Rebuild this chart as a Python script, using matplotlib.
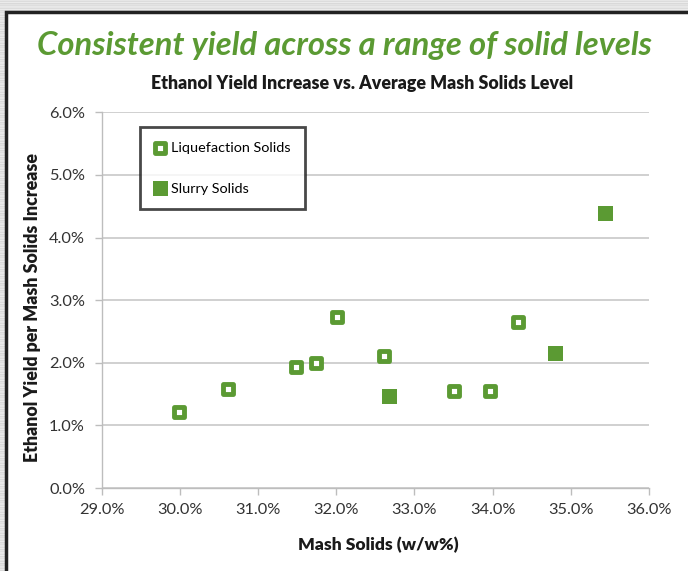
import matplotlib
matplotlib.use("Agg")
import matplotlib.pyplot as plt
from matplotlib.patches import Rectangle
from matplotlib.ticker import PercentFormatter
import numpy as np

# ---- data ----
liq_x = [29.99, 30.61, 31.49, 31.74, 32.01, 32.61, 33.50, 33.97, 34.33]
liq_y = [1.22, 1.58, 1.94, 2.00, 2.73, 2.11, 1.55, 1.55, 2.65]
slurry_x = [32.68, 34.80, 35.45]
slurry_y = [1.46, 2.15, 4.39]
x_ticks = [29, 30, 31, 32, 33, 34, 35, 36]
y_ticks = [0, 1, 2, 3, 4, 5, 6]

title = "Consistent yield across a range of solid levels"
subtitle = "Ethanol Yield Increase vs. Average Mash Solids Level"
xlabel = "Mash Solids (w/w%)"
ylabel = "Ethanol Yield per Mash Solids Increase"
labels = ["Liquefaction Solids", "Slurry Solids"]

GREEN = "#5b9a33"
W, H = 688, 571
plt.rcParams['font.family'] = ['Lato', 'DejaVu Sans']

fig = plt.figure(figsize=(W / 100, H / 100), dpi=100)
fig.patch.set_facecolor("#d9d9d9")

# brushed metal-ish stripes in background
bg = fig.add_axes([0, 0, 1, 1], zorder=-10)
bg.set_axis_off()
tex = np.tile(np.array([0.90, 0.86, 0.92, 0.85, 0.89, 0.87, 0.91]), (H // 7 + 1))[:H]
bg.imshow(np.repeat(tex[:, None], W, axis=1), cmap="gray", vmin=0, vmax=1,
          aspect="auto", extent=[0, 1, 0, 1])
bg.set_xlim(0, 1); bg.set_ylim(0, 1)
# white panel with dark frame
bg.add_patch(Rectangle((6 / W, -0.05), 1.1, 1 - 12 / H + 0.05, facecolor="white",
                       edgecolor="#222222", linewidth=2.5, transform=bg.transAxes))

ax = fig.add_axes([101.7 / W, (H - 488) / H, (649 - 101.7) / W, (488 - 112.3) / H])
ax.set_facecolor("none")

ax.scatter(liq_x, liq_y, marker="s", s=7.1 ** 2, facecolor="white",
           edgecolor=GREEN, linewidth=3.5, zorder=3, label=labels[0])
ax.scatter(slurry_x, slurry_y, marker="s", s=10.8 ** 2, facecolor=GREEN,
           edgecolor="none", zorder=3, label=labels[1])

ax.set_xlim(29, 36)
ax.set_ylim(0, 6)
ax.set_xticks(x_ticks)
ax.set_yticks(y_ticks)
ax.xaxis.set_major_formatter(PercentFormatter(decimals=1))
ax.yaxis.set_major_formatter(PercentFormatter(decimals=1))
ax.grid(axis="y", color="#c8c8c8", linewidth=1.2)
ax.set_axisbelow(True)
for s in ["top", "right"]:
    ax.spines[s].set_visible(False)
for s in ["left", "bottom"]:
    ax.spines[s].set_color("#bdbdbd")
    ax.spines[s].set_linewidth(1.0)
ax.tick_params(axis="both", colors="#bdbdbd", labelcolor="#333333",
               labelsize=11.8, length=5, width=1)
ax.tick_params(axis="x", pad=6)
ax.tick_params(axis="y", pad=7)

xl = fig.text(378 / W, 1 - 545 / H, xlabel, ha="center", va="center",
              fontsize=12, fontweight="heavy", color="#1a1a1a")
yl = fig.text(33 / W, 1 - 308 / H, ylabel, ha="center", va="center",
              rotation=90, fontsize=12, fontweight="heavy", color="#1a1a1a")

leg = ax.legend(loc="upper left", bbox_to_anchor=(140 / W, 1 - 127 / H),
                bbox_transform=fig.transFigure, frameon=True, fancybox=False,
                fontsize=10.4, labelspacing=2.0, handletextpad=0.35,
                borderpad=1.0, handlelength=0.8, borderaxespad=0)
leg.get_frame().set_edgecolor("#1a1a1a")
leg.get_frame().set_linewidth(2)

t1 = fig.text(344 / W, 1 - 45 / H, title, ha="center", va="center",
              fontsize=25, fontweight="bold", fontstyle="italic", color=GREEN)
t2 = fig.text(362 / W, 1 - 84 / H, subtitle, ha="center", va="center",
              fontsize=12, fontweight="heavy", color="#1a1a1a")

# fit text extents to the reference
fig.canvas.draw()
r = fig.canvas.get_renderer()
for t, target, dim in [(t1, 615, "w"), (t2, 421, "w"), (xl, 160, "w"), (yl, 307, "h")]:
    bb = t.get_window_extent(r)
    size = bb.width if dim == "w" else bb.height
    t.set_fontsize(t.get_fontsize() * target / size)

fig.savefig("out.png", dpi=100)
